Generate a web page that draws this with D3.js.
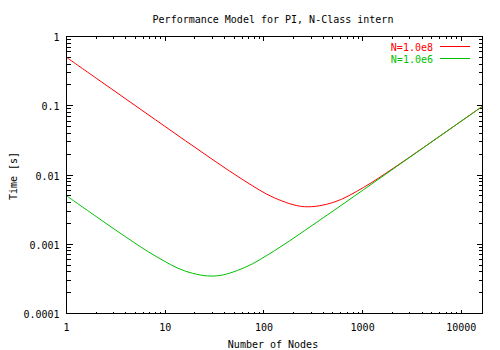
<!DOCTYPE html>
<html><head><meta charset="utf-8">
<script src="https://cdn.jsdelivr.net/npm/d3@7/dist/d3.min.js"></script>
<style>
html,body{margin:0;padding:0;background:#fff;}
text{font-family:"DejaVu Sans Mono",monospace;font-size:10px;fill:#000;}
</style></head>
<body>
<svg id="chart" width="500" height="350"></svg>
<script>
// Data
const nodes = [1,2,4,8,16,32,64,128,256,512,1024,2048,4096,8192,16384];
const timeN1e8 = [0.500,0.250,0.125,0.0625,0.0313,0.0158,0.00820,0.00467,0.00349,0.00405,0.00663,0.01253,0.0247,0.0492,0.0983];
const timeN1e6 = [0.00501,0.00251,0.00127,0.000673,0.000409,0.000348,0.000462,0.000807,0.00156,0.00308,0.00615,0.01229,0.0246,0.0492,0.0983];
const seriesNames = ["N=1.0e8","N=1.0e6"];
const seriesColors = ["#ff0000","#00c000"];
const xTickValues = [1,10,100,1000,10000];
const xTickLabels = ["1","10","100","1000","10000"];
const yTickValues = [0.0001,0.001,0.01,0.1,1];
const yTickLabels = ["0.0001","0.001","0.01","0.1","1"];
const title = "Performance Model for PI, N-Class intern";
const xTitle = "Number of Nodes";
const yTitle = "Time [s]";

const svg = d3.select("#chart");
const L = 66.5, R = 482.5, T = 36.5, B = 313.5;
const x = d3.scaleLog().domain([1,16384]).range([L,R]);
const y = d3.scaleLog().domain([0.0001,1]).range([B,T]);

// minor ticks
const xMinor = [], yMinor = [];
for (let d = 1; d <= 10000; d *= 10) for (let k = 2; k <= 9; k++) if (d*k <= 16384) xMinor.push(d*k);
for (let d = 0.0001; d < 1; d *= 10) for (let k = 2; k <= 9; k++) yMinor.push(+(d*k).toPrecision(3));

const g = svg.append("g").attr("shape-rendering","crispEdges").attr("stroke","#000").attr("stroke-width",1);
// x ticks bottom and top
xTickValues.forEach(v => {
  const px = Math.round(x(v)-0.5)+0.5;
  g.append("line").attr("x1",px).attr("x2",px).attr("y1",B).attr("y2",B-4);
  g.append("line").attr("x1",px).attr("x2",px).attr("y1",T).attr("y2",T+4);
});
xMinor.forEach(v => {
  const px = Math.round(x(v)-0.5)+0.5;
  g.append("line").attr("x1",px).attr("x2",px).attr("y1",B).attr("y2",B-2);
  g.append("line").attr("x1",px).attr("x2",px).attr("y1",T).attr("y2",T+2);
});
yTickValues.forEach(v => {
  const py = Math.round(y(v)-0.5)+0.5;
  g.append("line").attr("x1",L).attr("x2",L+6).attr("y1",py).attr("y2",py);
  g.append("line").attr("x1",R).attr("x2",R-6).attr("y1",py).attr("y2",py);
});
yMinor.forEach(v => {
  const py = Math.round(y(v)-0.5)+0.5;
  g.append("line").attr("x1",L).attr("x2",L+4).attr("y1",py).attr("y2",py);
  g.append("line").attr("x1",R).attr("x2",R-4).attr("y1",py).attr("y2",py);
});

// tick labels
xTickValues.forEach((v,i) => {
  svg.append("text").attr("x",x(v)).attr("y",330.5).attr("text-anchor","middle").text(xTickLabels[i]);
});
yTickValues.forEach((v,i) => {
  svg.append("text").attr("x",59.5).attr("y",y(v)+4.5).attr("text-anchor","end").text(yTickLabels[i]);
});

// titles
svg.append("text").attr("x",273).attr("y",22.5).attr("text-anchor","middle").text(title);
svg.append("text").attr("x",273).attr("y",348).attr("text-anchor","middle").text(xTitle);
svg.append("text").attr("transform","translate(16.5,176) rotate(-90)").attr("text-anchor","middle").text(yTitle);

// series
const line = d3.line().x(d => x(d[0])).y(d => y(d[1])).curve(d3.curveCatmullRom.alpha(0.5));
[timeN1e8, timeN1e6].forEach((vals,i) => {
  svg.append("path").datum(nodes.map((n,j)=>[n,vals[j]]))
    .attr("d",line).attr("fill","none").attr("stroke",seriesColors[i]).attr("stroke-width",1);
});

// legend
const legY = [46.5, 58.5];
seriesNames.forEach((name,i) => {
  svg.append("text").attr("x",433).attr("y",legY[i]+4).attr("text-anchor","end")
    .style("fill",seriesColors[i]).text(name);
  svg.append("line").attr("x1",440).attr("x2",470).attr("y1",legY[i]).attr("y2",legY[i])
    .attr("stroke",seriesColors[i]).attr("shape-rendering","crispEdges");
});

// frame
svg.append("rect").attr("x",L).attr("y",T).attr("width",R-L).attr("height",B-T)
  .attr("fill","none").attr("stroke","#000").attr("shape-rendering","crispEdges");
</script>
</body></html>
